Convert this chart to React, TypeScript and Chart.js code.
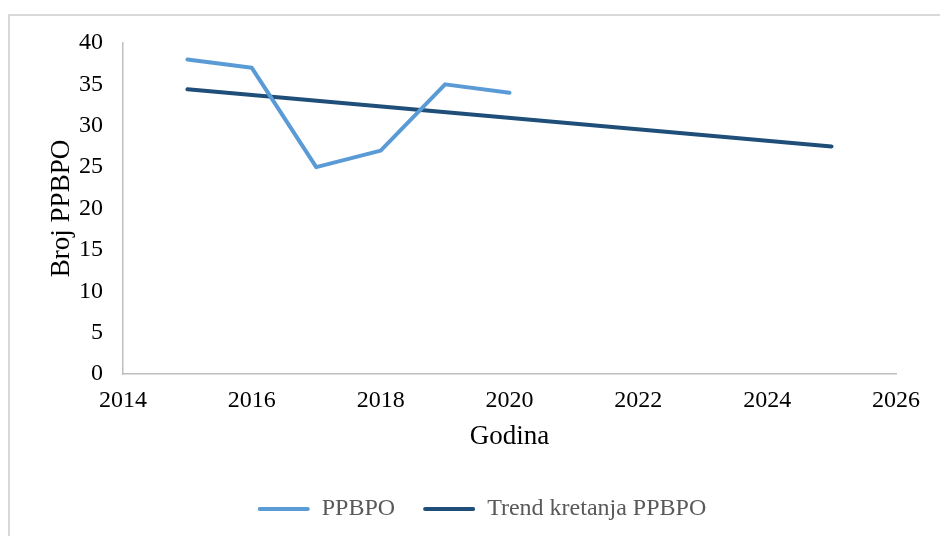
import React, { useEffect, useRef } from "react";
import { Chart, registerables } from "chart.js";

Chart.register(...registerables);

const years = [2015, 2016, 2017, 2018, 2019, 2020];
const ppbpo = [38, 37, 25, 27, 35, 34];
const trendYears = [2015, 2025];
const trendValues = [34.4, 27.5];

const FONT = "'Liberation Serif', 'Times New Roman', serif";

export default function App() {
  const ref = useRef<HTMLCanvasElement | null>(null);
  useEffect(() => {
    if (!ref.current) return;
    const shiftLegend = {
      id: "shiftLegend",
      afterLayout(chart: any) {
        if (chart.legend) {
          chart.legend.left += 12;
          chart.legend.right += 12;
        }
      },
    };
    const chart = new Chart(ref.current, {
      type: "line",
      data: {
        datasets: [
          {
            label: "PPBPO",
            data: years.map((x, i) => ({ x, y: ppbpo[i] })),
            borderColor: "#5b9bd5",
            backgroundColor: "#5b9bd5",
            borderWidth: 4,
            pointRadius: 0,
            borderCapStyle: "round",
            borderJoinStyle: "round",
            tension: 0,
          },
          {
            label: "Trend kretanja PPBPO",
            data: trendYears.map((x, i) => ({ x, y: trendValues[i] })),
            borderColor: "#1f4e79",
            backgroundColor: "#1f4e79",
            borderWidth: 4,
            pointRadius: 0,
            borderCapStyle: "round",
            tension: 0,
          },
        ],
      },
      plugins: [shiftLegend],
      options: {
        animation: false,
        responsive: false,
        maintainAspectRatio: false,
        layout: { padding: { top: 27, left: 32, right: 34, bottom: 0 } },
        plugins: {
          tooltip: { enabled: false },
          legend: {
            position: "bottom",
            labels: {
              font: { family: FONT, size: 24 },
              color: "#595959",
              boxWidth: 52,
              boxHeight: 4,
              padding: 28,
              generateLabels(chart: any) {
                return chart.data.datasets.map((ds: any, i: number) => ({
                  text: ds.label,
                  fillStyle: ds.borderColor,
                  strokeStyle: ds.borderColor,
                  lineWidth: 0,
                  borderRadius: 2,
                  fontColor: "#595959",
                  datasetIndex: i,
                  hidden: false,
                }));
              },
            },
          },
        },
        scales: {
          x: {
            type: "linear",
            min: 2014,
            max: 2026,
            ticks: {
              stepSize: 2,
              color: "#000",
              padding: 12,
              font: { family: FONT, size: 24 },
              callback: (v: any) => String(v),
            },
            grid: { color: "rgba(0,0,0,0)", drawTicks: false },
            border: { display: true, color: "#bfbfbf", width: 1.5 },
            title: {
              display: true,
              text: "Godina",
              color: "#000",
              font: { family: FONT, size: 27 },
              padding: { top: 8, bottom: 16 },
            },
            afterFit(scale: any) {
              scale.height = 95;
            },
          },
          y: {
            min: 0,
            max: 40,
            ticks: {
              stepSize: 5,
              color: "#000",
              padding: 20,
              font: { family: FONT, size: 24 },
            },
            grid: { color: "rgba(0,0,0,0)", drawTicks: false },
            border: { display: true, color: "#bfbfbf", width: 1.5 },
            title: {
              display: true,
              text: "Broj PPBPO",
              color: "#000",
              font: { family: FONT, size: 27 },
              padding: { top: 4, bottom: 4 },
            },
            afterFit(scale: any) {
              scale.width = 81;
              scale.paddingTop = 0;
              scale.paddingBottom = 0;
            },
          },
        },
      },
    });
    return () => chart.destroy();
  }, []);
  return (
    <div
      style={{
        position: "fixed",
        left: 8,
        top: 14,
        width: 960,
        height: 540,
        borderTop: "2px solid #d9d9d9",
        borderLeft: "2px solid #d9d9d9",
        background: "#fff",
      }}
    >
      <canvas ref={ref} width={922} height={515} style={{ display: "block" }} />
    </div>
  );
}
